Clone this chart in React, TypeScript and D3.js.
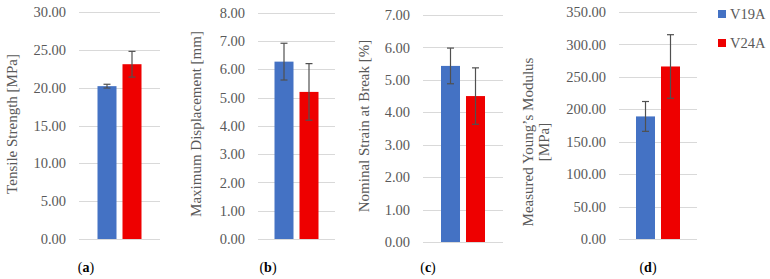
import React, { useEffect, useRef } from 'react';
import * as d3 from 'd3';

// series + panels
const categories = ['V19A', 'V24A'];
const panelLetters = ['a', 'b', 'c', 'd'];
const yTitles = [
  ['Tensile Strength [MPa]'],
  ['Maximum Displacement [mm]'],
  ['Nominal Strain at Break [%]'],
  ['Measured Young\u2019s Modulus', '[MPa]'],
];
const yMaxValues = [30, 8, 7, 350];
const yStepValues = [5, 1, 1, 50];
const v19aMean = [20.2, 6.27, 5.43, 189];
const v19aErr = [0.25, 0.65, 0.55, 23];
const v24aMean = [23.1, 5.2, 4.5, 266];
const v24aErr = [1.7, 1.0, 0.87, 49];

const colors = ['#4472c4', '#ee0000'];
const textColor = '#595959';
const font = '"Liberation Serif", serif';

// pixel layout of each panel (not data)
const layout = [
  { x0: 79, x1: 160, top: 12, bottom: 239, titleX: 12, titleY: 124, labelX: 86 },
  { x0: 258, x1: 335, top: 12.7, bottom: 239, titleX: 196, titleY: 124, labelX: 268 },
  { x0: 423, x1: 503, top: 15, bottom: 242, titleX: 364, titleY: 126, labelX: 428 },
  { x0: 619, x1: 697, top: 12, bottom: 239, titleX: 528, titleY: 142, labelX: 648 },
];

function Chart() {
  const ref = useRef<SVGSVGElement>(null);

  useEffect(() => {
    const svg = d3.select(ref.current);
    svg.selectAll('*').remove();

    panelLetters.forEach((letter, p) => {
      const L = layout[p];
      const g = svg.append('g');
      const yScale = d3.scaleLinear().domain([0, yMaxValues[p]]).range([L.bottom, L.top]);
      const ticks = d3.range(0, yMaxValues[p] + yStepValues[p] / 2, yStepValues[p]);
      const mid = (L.x0 + L.x1) / 2;
      const xScale = d3.scaleBand().domain(categories).range([mid - 22, mid + 22]).paddingInner(0.24);

      // gridlines
      g.selectAll('.grid')
        .data(ticks)
        .enter()
        .append('line')
        .attr('x1', L.x0)
        .attr('x2', L.x1)
        .attr('y1', d => Math.round(yScale(d)) + 0.5)
        .attr('y2', d => Math.round(yScale(d)) + 0.5)
        .attr('stroke', '#d9d9d9')
        .attr('stroke-width', 1);

      // tick labels
      g.selectAll('.tick')
        .data(ticks)
        .enter()
        .append('text')
        .attr('x', L.x0 - 13)
        .attr('y', d => yScale(d))
        .attr('dy', '0.35em')
        .attr('text-anchor', 'end')
        .attr('font-family', font)
        .attr('font-size', 14.5)
        .attr('fill', textColor)
        .text(d => d.toFixed(2));

      const rows = categories.map((c, i) => ({
        cat: c,
        mean: i === 0 ? v19aMean[p] : v24aMean[p],
        err: i === 0 ? v19aErr[p] : v24aErr[p],
        color: colors[i],
      }));

      g.selectAll('.bar')
        .data(rows)
        .enter()
        .append('rect')
        .attr('x', d => xScale(d.cat)!)
        .attr('width', xScale.bandwidth())
        .attr('y', d => yScale(d.mean))
        .attr('height', d => L.bottom - yScale(d.mean))
        .attr('fill', d => d.color);

      // error bars
      rows.forEach(d => {
        const cx = xScale(d.cat)! + xScale.bandwidth() / 2;
        const yHi = yScale(d.mean + d.err);
        const yLo = yScale(d.mean - d.err);
        const eb = g.append('g').attr('stroke', '#505050').attr('stroke-width', 1.2);
        eb.append('line').attr('x1', cx).attr('x2', cx).attr('y1', yHi).attr('y2', yLo);
        eb.append('line').attr('x1', cx - 3.5).attr('x2', cx + 3.5).attr('y1', yHi).attr('y2', yHi);
        eb.append('line').attr('x1', cx - 3.5).attr('x2', cx + 3.5).attr('y1', yLo).attr('y2', yLo);
      });

      // y title (rotated)
      const lines = yTitles[p];
      const t = g.append('text')
        .attr('transform', `translate(${L.titleX},${L.titleY}) rotate(-90)`)
        .attr('text-anchor', 'middle')
        .attr('font-family', font)
        .attr('font-size', 15)
        .attr('fill', textColor);
      lines.forEach((ln, i) => {
        t.append('tspan')
          .attr('x', 0)
          .attr('dy', i === 0 ? '0.35em' : '1.05em')
          .text(ln);
      });

      // panel label
      const lab = g.append('text')
        .attr('x', L.labelX)
        .attr('y', 272)
        .attr('text-anchor', 'middle')
        .attr('font-family', font)
        .attr('font-size', 14)
        .attr('fill', '#000');
      lab.append('tspan').text('(');
      lab.append('tspan').attr('font-weight', 'bold').text(letter);
      lab.append('tspan').text(')');
    });

    // legend
    const legend = svg.append('g');
    categories.forEach((c, i) => {
      legend.append('rect')
        .attr('x', 718)
        .attr('y', 10 + i * 29)
        .attr('width', 8)
        .attr('height', 8)
        .attr('fill', colors[i]);
      legend.append('text')
        .attr('x', 730)
        .attr('y', 19 + i * 29)
        .attr('font-family', font)
        .attr('font-size', 14.5)
        .attr('fill', textColor)
        .text(c);
    });
  }, []);

  return (
    <svg
      ref={ref}
      width={770}
      height={279}
      style={{ position: 'absolute', left: 0, top: 0, background: '#fff' }}
    />
  );
}

export default function App() {
  return <Chart />;
}
